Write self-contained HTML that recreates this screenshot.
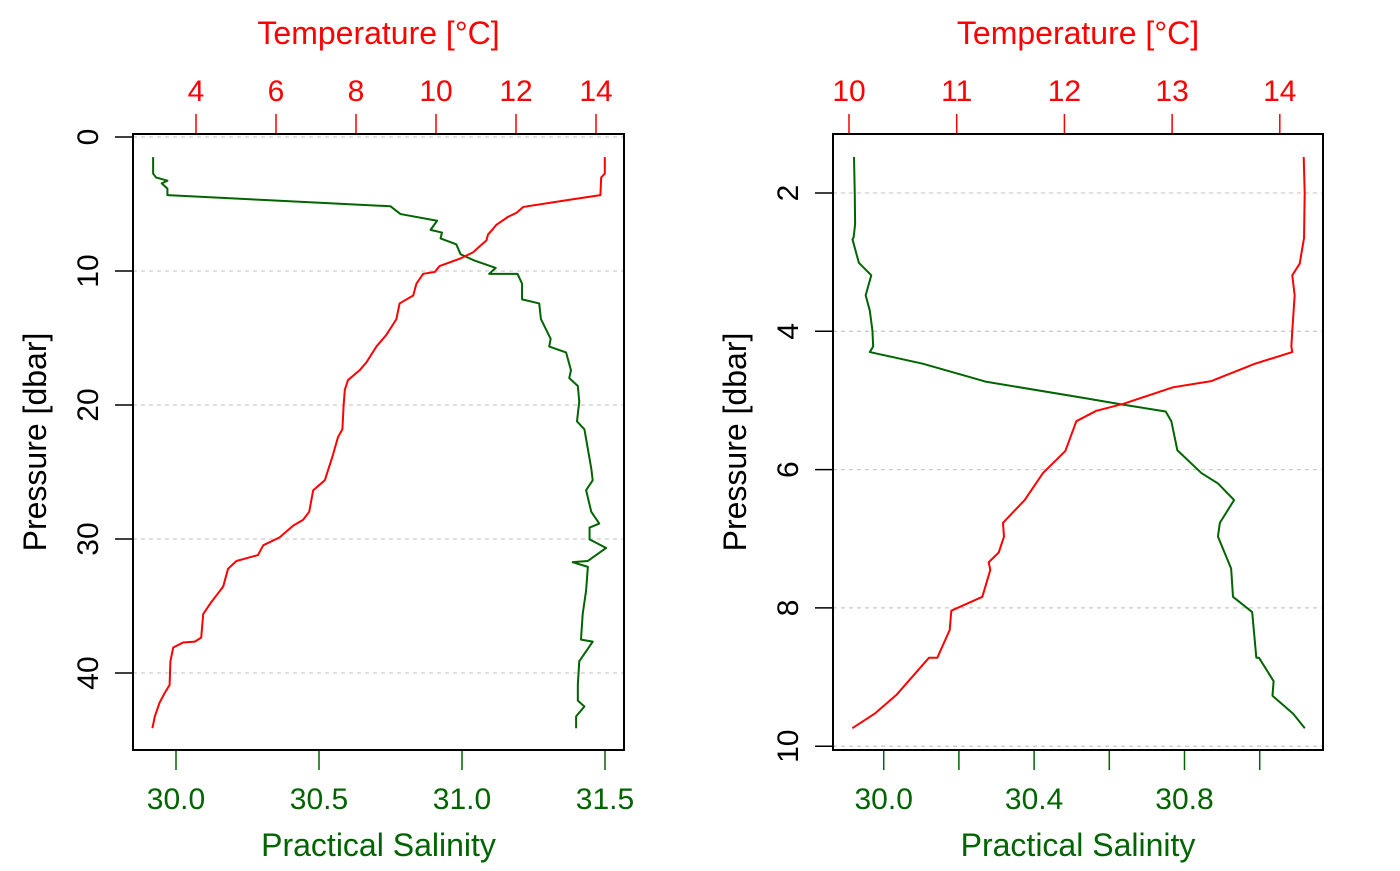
<!DOCTYPE html>
<html><head><meta charset="utf-8"><style>
body{margin:0;background:#fff;}
svg text{font-family:"Liberation Sans",Arial,sans-serif;}
</style></head><body>
<svg id="chart" width="1400" height="866" xmlns="http://www.w3.org/2000/svg"></svg>
<script>
// Left panel (full profile)
const leftSalP = [1.50,2.73,3.02,3.26,3.46,3.85,4.34,4.70,5.17,5.75,6.25,6.93,7.13,7.57,8.01,8.75,9.19,9.77,10.21,10.21,10.95,12.12,12.42,13.59,15.06,15.64,16.08,17.41,17.99,18.58,19.75,21.22,21.81,23.28,24.74,25.62,26.36,27.97,28.85,29.15,30.03,30.67,31.64,31.73,32.08,33.84,35.60,37.51,37.66,39.13,40.89,42.06,42.50,43.24,44.12];
const leftSal = [29.92,29.92,29.93,29.97,29.95,29.97,29.97,30.31,30.75,30.785,30.913,30.89,30.93,30.925,30.98,30.995,31.04,31.118,31.095,31.194,31.21,31.21,31.27,31.276,31.31,31.305,31.364,31.381,31.375,31.405,31.41,31.402,31.428,31.44,31.452,31.457,31.434,31.452,31.48,31.446,31.446,31.504,31.44,31.387,31.44,31.434,31.422,31.416,31.457,31.41,31.405,31.405,31.428,31.399,31.399];
const leftTempP = [1.5,2.73,3.02,4.34,4.72,5.22,5.66,5.96,6.55,6.84,7.28,7.72,8.16,8.60,9.04,9.63,10.07,10.21,10.95,11.83,12.42,13.59,14.76,15.64,16.82,17.41,18.14,18.87,20.05,21.81,22.40,23.86,25.62,26.36,27.97,28.56,29.00,29.88,30.47,31.20,31.64,32.23,33.55,34.72,35.60,37.36,37.66,37.72,38.10,39.13,40.89,41.48,42.21,43.24,44.12];
const leftTemp = [14.22,14.22,14.13,14.11,13.26,12.18,12.01,11.80,11.51,11.43,11.30,11.26,11.09,10.93,10.63,10.09,9.97,9.68,9.51,9.43,9.09,9.01,8.76,8.51,8.26,8.09,7.80,7.72,7.69,7.66,7.55,7.41,7.22,6.93,6.83,6.68,6.43,6.09,5.68,5.55,5.01,4.80,4.68,4.38,4.18,4.13,3.97,3.68,3.43,3.36,3.34,3.22,3.09,2.97,2.91];
const leftPTicks = [0,10,20,30,40];
const leftSTicks = [30.0,30.5,31.0,31.5];
const leftTTicks = [4,6,8,10,12,14];
// Right panel (upper 10 dbar)
const rightSalP = [1.48,2.00,2.45,2.64,2.67,3.01,3.19,3.48,3.70,3.99,4.22,4.30,4.47,4.73,4.97,5.06,5.16,5.30,5.72,6.05,6.20,6.44,6.77,6.97,7.43,7.84,8.06,8.72,8.72,9.06,9.27,9.53,9.74];
const rightSal = [29.921,29.923,29.924,29.920,29.917,29.934,29.967,29.952,29.963,29.970,29.972,29.963,30.105,30.273,30.539,30.636,30.750,30.765,30.781,30.845,30.889,30.932,30.894,30.889,30.924,30.929,30.980,30.991,30.998,31.037,31.034,31.089,31.120];
const rightTempP = [1.48,2.00,2.65,3.02,3.19,3.48,3.99,4.22,4.30,4.47,4.72,4.81,5.05,5.15,5.30,5.73,6.05,6.44,6.77,6.97,7.20,7.34,7.45,7.84,8.04,8.32,8.72,8.72,9.26,9.53,9.74];
const rightTemp = [14.222,14.231,14.225,14.185,14.116,14.138,14.116,14.107,14.116,13.767,13.364,13.008,12.544,12.296,12.111,12.009,11.801,11.631,11.430,11.439,11.390,11.297,11.312,11.238,10.950,10.935,10.820,10.743,10.439,10.238,10.031];
const rightPTicks = [2,4,6,8,10];
const rightSTicks = [30.0,30.2,30.4,30.6,30.8,31.0];
const rightSLabels = ["30.0","","30.4","","30.8",""];
const rightTTicks = [10,11,12,13,14];

const NS="http://www.w3.org/2000/svg";
const svg=document.getElementById('chart');
function mk(tag,attrs,parent){const e=document.createElementNS(NS,tag);for(const k in attrs)e.setAttribute(k,attrs[k]);(parent||svg).appendChild(e);return e;}
const GREEN="#006400", RED="#ff0000";
const TF=30, HF=32;

function panel(cfg){
  const g=mk('g',{});
  
  
  const {x0,x1,y0,y1}=cfg.box;
  cfg.pTicks.forEach(p=>{
    const l=mk('line',{x1:x0,x2:x1,y1:cfg.yP(p),y2:cfg.yP(p),stroke:'#cccccc','stroke-width':1.3,'stroke-dasharray':'4,4'},g);
    
    
  });
  cfg.pTicks.forEach(p=>{
    const y=cfg.yP(p);
    const t=mk('line',{x1:x0-18,x2:x0,y1:y,y2:y,stroke:'#000','stroke-width':1.5},g);
    
    
    const tx=mk('text',{x:x0-35,y:y,'font-size':TF,'text-anchor':'middle',transform:`rotate(-90 ${x0-35} ${y})`,fill:'#000'},g);
    tx.textContent=String(p);
    
    
  });
  const yt=mk('text',{x:x0-87,y:(y0+y1)/2,'font-size':HF,'text-anchor':'middle',transform:`rotate(-90 ${x0-87} ${(y0+y1)/2})`,fill:'#000'},g);
  yt.textContent='Pressure [dbar]';
  
  
  cfg.sTicks.forEach((s,i)=>{
    const x=cfg.xS(s);
    const t=mk('line',{x1:x,x2:x,y1:y1,y2:y1+20,stroke:GREEN,'stroke-width':1.5},g);
    
    
    const lab=cfg.sLabels?cfg.sLabels[i]:s.toFixed(1);
    if(lab){
      const tx=mk('text',{x:x,y:809,'font-size':TF,'text-anchor':'middle',fill:GREEN},g);
      tx.textContent=lab;
      
      
    }
  });
  const bt=mk('text',{x:(x0+x1)/2,y:856,'font-size':HF,'text-anchor':'middle',fill:GREEN},g);
  bt.textContent='Practical Salinity';
  
  
  cfg.tTicks.forEach(tv=>{
    const x=cfg.xT(tv);
    const t=mk('line',{x1:x,x2:x,y1:y0,y2:y0-20,stroke:RED,'stroke-width':1.5},g);
    
    
    const tx=mk('text',{x:x,y:101,'font-size':TF,'text-anchor':'middle',fill:RED},g);
    tx.textContent=String(tv);
    
    
  });
  const tt=mk('text',{x:(x0+x1)/2,y:44,'font-size':HF,'text-anchor':'middle',fill:RED},g);
  tt.textContent='Temperature [°C]';
  
  
  const sp=mk('polyline',{points:cfg.sal.map((s,i)=>cfg.xS(s)+','+cfg.yP(cfg.salP[i])).join(' '),fill:'none',stroke:GREEN,'stroke-width':2,'stroke-linejoin':'round'},g);
  
  
  const tp=mk('polyline',{points:cfg.temp.map((t,i)=>cfg.xT(t)+','+cfg.yP(cfg.tempP[i])).join(' '),fill:'none',stroke:RED,'stroke-width':2,'stroke-linejoin':'round'},g);
  
  
  const b=mk('rect',{x:x0,y:y0,width:x1-x0,height:y1-y0,fill:'none',stroke:'#000','stroke-width':2},g);
  
  
}

panel({name:'left-panel-full-profile',box:{x0:133,x1:624,y0:134,y1:750},
  yP:p=>137+p*13.4, xS:s=>176+(s-30)*286, xT:t=>196+(t-4)*40,
  pTicks:leftPTicks,sTicks:leftSTicks,tTicks:leftTTicks,
  sal:leftSal,salP:leftSalP,temp:leftTemp,tempP:leftTempP});
panel({name:'right-panel-upper-profile',box:{x0:833,x1:1323,y0:134,y1:750},
  yP:p=>193+(p-2)*69.15, xS:s=>883.7+(s-30)*376, xT:t=>849+(t-10)*107.7,
  pTicks:rightPTicks,sTicks:rightSTicks,sLabels:rightSLabels,tTicks:rightTTicks,
  sal:rightSal,salP:rightSalP,temp:rightTemp,tempP:rightTempP});
</script>
</body></html>
